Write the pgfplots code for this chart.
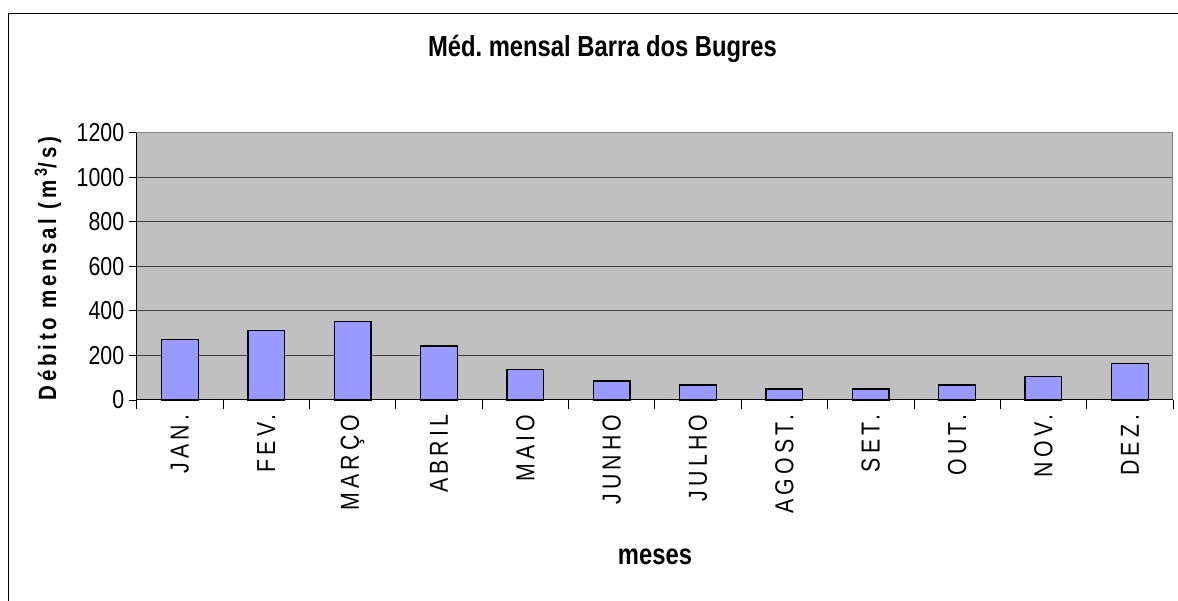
\documentclass[border=0pt]{standalone}
\usepackage{fontspec}
\setmainfont{Liberation Sans}[FakeStretch=0.82]
\usepackage{pgfplots}
\pgfplotsset{compat=1.18}
\definecolor{barfill}{RGB}{153,153,255}
\definecolor{plotbg}{RGB}{192,192,192}
\definecolor{gridc}{RGB}{64,64,64}
\definecolor{boxc}{RGB}{128,128,128}
\frenchspacing
\begin{document}
\begin{tikzpicture}[x=1pt,y=1pt]
\path[use as bounding box] (0,0) rectangle (1178,601);
\draw[line width=1.4pt] (8.3,-20) -- (8.3,587.7) -- (1200,587.7);
\begin{axis}[
  name=ax,
  at={(136.7pt,201pt)}, anchor=south west,
  scale only axis, width=1036.3pt, height=267.3pt,
  xmin=-0.5, xmax=11.5, ymin=0, ymax=1200,
  ytick={0,200,...,1200},
  xtick={0,...,11},
  xticklabels={JAN.,FEV.,MARÇO,ABRIL,MAIO,JUNHO,JULHO,AGOST.,SET.,OUT.,NOV.,DEZ.},
  minor xtick={-0.5,0.5,...,11.5},
  tick align=outside,
  xtick pos=bottom, ytick pos=left,
  major tick length=8pt,
  x tick style={draw=none},
  minor tick length=9pt,
  minor x tick style={draw=black, line width=0.8pt},
  y tick style={draw=black, line width=0.8pt},
  /pgf/number format/assume math mode=true,
  /pgf/number format/1000 sep={},
  yticklabel style={font=\fontsize{26}{26}\selectfont, xshift=-1pt},
  xticklabel style={font=\fontsize{26}{26}\selectfont\addfontfeature{LetterSpace=16}, rotate=90, anchor=east},
  xticklabel shift=3pt,
  axis background/.style={fill=plotbg},
  axis line style={draw=boxc, line width=1pt},
  ymajorgrids, major grid style={draw=gridc, line width=1pt},
  ybar, bar width=36.7pt,
  clip=false,
]
\addplot[fill=barfill, draw=black, line width=1.3pt] coordinates {
  (0,272) (1,311) (2,352) (3,242) (4,136) (5,85)
  (6,67) (7,49) (8,49) (9,67) (10,106) (11,165)
};
\end{axis}
\draw[black, line width=1pt] (ax.north west) -- (ax.south west) -- (ax.south east);
\node[anchor=base, font=\fontsize{29}{29}\selectfont\bfseries] at (602.5,544.3) {Méd. mensal Barra dos Bugres};
\node[anchor=base, font=\fontsize{29}{29}\selectfont\bfseries] at (655,36) {meses};
\node[anchor=base, rotate=90, font=\fontsize{25}{25}\selectfont\bfseries\addfontfeature{LetterSpace=15}] at (56,332.5) {Débito mensal (m\,\textsuperscript{3}/s)};
\end{tikzpicture}
\end{document}
